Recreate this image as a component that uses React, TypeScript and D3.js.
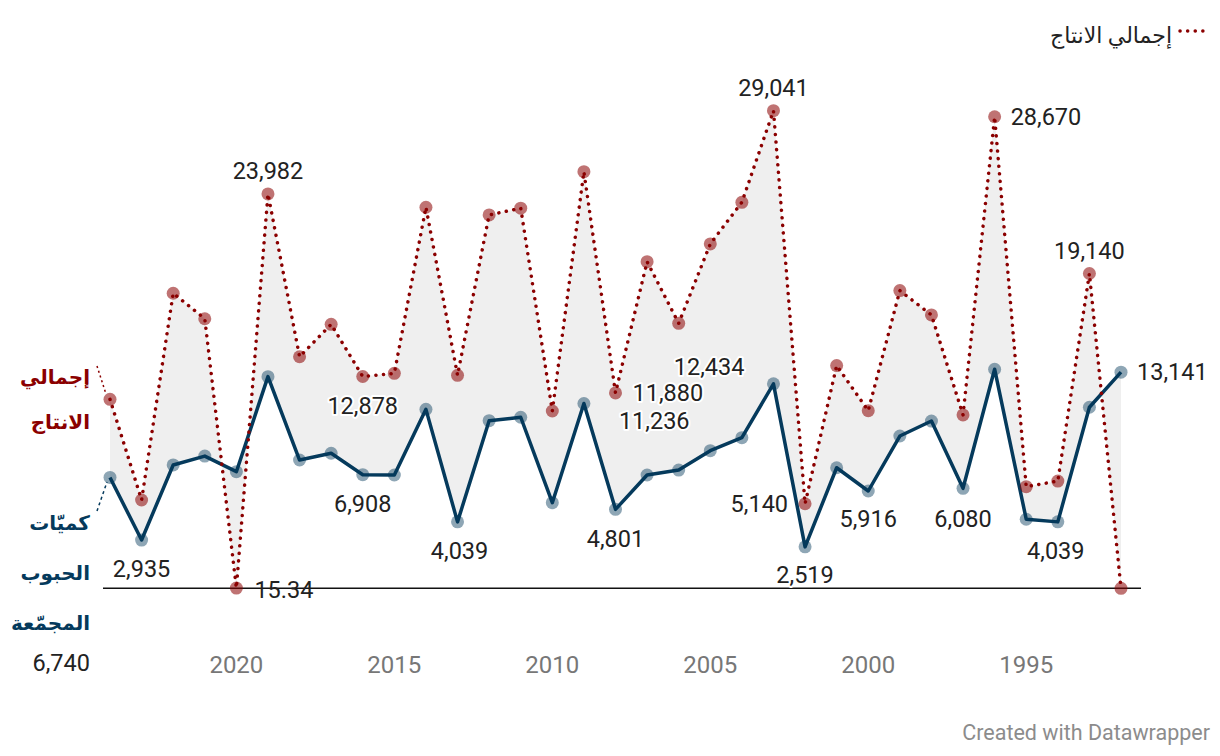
import React from 'react';
import * as d3 from 'd3';

// years run right-to-left on the axis, newest first
const years = [2024, 2023, 2022, 2021, 2020, 2019, 2018, 2017, 2016, 2015, 2014, 2013, 2012, 2011, 2010, 2009, 2008, 2007, 2006, 2005, 2004, 2003, 2002, 2001, 2000, 1999, 1998, 1997, 1996, 1995, 1994, 1993, 1992];

// إجمالي الانتاج
const totalProduction = [11490, 5369, 17940, 16390, 15.34, 23982, 14080, 16050, 12878, 13070, 23170, 12950, 22700, 23110, 10780, 25330, 11880, 19860, 16110, 20940, 23470, 29041, 5140, 13540, 10800, 18100, 16620, 10540, 28670, 6180, 6520, 19140, 0];

// كميّات الحبوب المجمّعة
const grainCollected = [6740, 2935, 7500, 8040, 7090, 12870, 7800, 8210, 6908, 6890, 10880, 4039, 10190, 10400, 5205, 11236, 4801, 6890, 7190, 8370, 9160, 12434, 2519, 7330, 5916, 9260, 10170, 6080, 13320, 4200, 4039, 11010, 13141];

const xTicks = [2020, 2015, 2010, 2005, 2000, 1995];

// which points get a value label
const labelledTotal = [2019, 2016, 2020, 2008, 2003, 2002, 1996, 1993];
const labelledGrain = [2023, 2016, 2013, 2009, 2008, 2003, 2002, 2000, 1997, 1994, 1992];

const W = 1220;
const H = 756;
const RED = '#8b0000';
const BLUE = '#053a5c';
const FONT = 'Roboto, "DejaVu Sans", sans-serif';

// label placement (dx, dy, anchor) — picked by hand to avoid collisions like the original
const totalPos: Record<number, [number, number, string]> = {
  2019: [0, -23, 'middle'],
  2016: [0, 29, 'middle'],
  2020: [18, 2, 'start'],
  2008: [17, 0, 'start'],
  2003: [0, -23, 'middle'],
  2002: [-17, 0, 'end'],
  1996: [16, 0, 'start'],
  1993: [0, -23, 'middle'],
};
const grainPos: Record<number, [number, number, string]> = {
  2023: [0, 29, 'middle'],
  2016: [0, 29, 'middle'],
  2013: [2, 29, 'middle'],
  2009: [35, 17, 'start'],
  2008: [0, 29, 'middle'],
  2003: [-29, -17, 'end'],
  2002: [0, 28, 'middle'],
  2000: [0, 28, 'middle'],
  1997: [0, 30, 'middle'],
  1994: [-2, 29, 'middle'],
  1992: [16, 0, 'start'],
};

const fmt = (v: number) => (Number.isInteger(v) ? d3.format(',')(v) : String(v));

export default function App() {
  const x = d3.scaleLinear().domain([2024, 1992]).range([110, 1121]);
  const y = d3.scaleLinear().domain([0, 30000]).range([588.3, 94.9]);

  const rows = years.map((yr, i) => ({ yr, t: totalProduction[i], g: grainCollected[i] }));

  const area = d3.area<any>().x(d => x(d.yr)).y0(d => y(d.t)).y1(d => y(d.g));
  const lineT = d3.line<any>().x(d => x(d.yr)).y(d => y(d.t));
  const lineG = d3.line<any>().x(d => x(d.yr)).y(d => y(d.g));

  const halo = { paintOrder: 'stroke', stroke: '#fff', strokeWidth: 4, strokeLinejoin: 'round' as const };

  const valueLabel = (yr: number, v: number, pos: [number, number, string], key: string) => {
    const noHalo = v < 100;
    return (
      <text key={key} x={x(yr) + pos[0]} y={y(v) + pos[1]} dy="0.35em" textAnchor={pos[2] as any}
        fontSize={23.5} fill="#222" style={noHalo ? undefined : halo}>{fmt(v)}</text>
    );
  };

  return (
    <svg width={W} height={H} style={{ position: 'absolute', left: 0, top: 0, fontFamily: FONT }}>
      <rect width={W} height={H} fill="#fff" />

      {/* legend */}
      <line x1={1180} x2={1209} y1={31} y2={31} stroke={RED} strokeWidth={3.5} strokeLinecap="round" strokeDasharray="0.1 7.5" />
      <text x={1172} y={35} dy="0.35em" textAnchor="end" fontSize={22} fill="#222">إجمالي الانتاج</text>

      <path d={area(rows) || ''} fill="#efefef" />

      <line x1={103} x2={1141} y1={y(0)} y2={y(0)} stroke="#111" strokeWidth={1.5} />

      {xTicks.map(t => (
        <text key={t} x={x(t)} y={665} dy="0.35em" textAnchor="middle" fontSize={24} fill="#777">{t}</text>
      ))}

      <path d={lineG(rows) || ''} fill="none" stroke={BLUE} strokeWidth={3.5} strokeLinejoin="round" />
      <path d={lineT(rows) || ''} fill="none" stroke={RED} strokeWidth={3.5} strokeLinecap="round" strokeDasharray="0.1 7.5" />

      {rows.map(d => (
        <circle key={'g' + d.yr} cx={x(d.yr)} cy={y(d.g)} r={6.5} fill={BLUE} fillOpacity={0.45} />
      ))}
      {rows.map(d => (
        <circle key={'t' + d.yr} cx={x(d.yr)} cy={y(d.t)} r={6.5} fill={RED} fillOpacity={0.55} />
      ))}

      {labelledTotal.map(yr => valueLabel(yr, totalProduction[years.indexOf(yr)], totalPos[yr], 't' + yr))}
      {labelledGrain.map(yr => valueLabel(yr, grainCollected[years.indexOf(yr)], grainPos[yr], 'g' + yr))}

      {/* line labels on the left */}
      <line x1={97} y1={366} x2={106} y2={394} stroke={RED} strokeWidth={1.5} strokeDasharray="2 3" />
      <text x={90} y={377} dy="0.35em" textAnchor="end" fontSize={20} fontWeight="bold" fill={RED}>إجمالي</text>
      <text x={90} y={422} dy="0.35em" textAnchor="end" fontSize={20} fontWeight="bold" fill={RED}>الانتاج</text>

      <line x1={97} y1={511} x2={107} y2={482} stroke={BLUE} strokeWidth={1.5} strokeDasharray="3 3" />
      <text x={90} y={523} dy="0.35em" textAnchor="end" fontSize={20} fontWeight="bold" fill={BLUE}>كميّات</text>
      <text x={90} y={573} dy="0.35em" textAnchor="end" fontSize={20} fontWeight="bold" fill={BLUE}>الحبوب</text>
      <text x={90} y={623} dy="0.35em" textAnchor="end" fontSize={20} fontWeight="bold" fill={BLUE}>المجمّعة</text>
      <text x={90} y={663} dy="0.35em" textAnchor="end" fontSize={23.5} fill="#222">{fmt(grainCollected[0])}</text>

      <text x={1210} y={732} dy="0.35em" textAnchor="end" fontSize={21.5} fill="#8c8c8c">Created with Datawrapper</text>
    </svg>
  );
}
